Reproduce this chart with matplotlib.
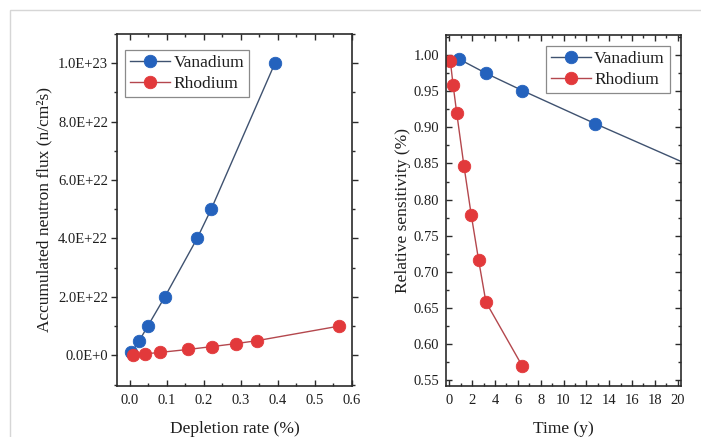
import matplotlib
matplotlib.use("Agg")
import matplotlib.pyplot as plt
from matplotlib.ticker import FixedLocator, MultipleLocator, FixedFormatter
from matplotlib.patches import Rectangle

# ---- data -------------------------------------------------------------
# Left: accumulated neutron flux vs depletion rate
v_depletion = [0.005, 0.026, 0.049, 0.095, 0.182, 0.220, 0.392]
v_flux = [1e21, 5e21, 1e22, 2e22, 4e22, 5e22, 1e23]
rh_depletion = [0.010, 0.042, 0.082, 0.157, 0.223, 0.286, 0.343, 0.565]
rh_flux = [1e20, 5e20, 1e21, 2e21, 3e21, 4e21, 5e21, 1e22]

# Right: relative sensitivity vs time
v_time = [0.8, 3.2, 6.4, 12.8, 25.6]
v_sens = [0.995, 0.975, 0.951, 0.905, 0.816]
rh_time = [0.08, 0.32, 0.64, 1.28, 1.92, 2.56, 3.2, 6.4]
rh_sens = [0.992, 0.959, 0.920, 0.846, 0.778, 0.716, 0.658, 0.569]

flux_ticks = [0, 2e22, 4e22, 6e22, 8e22, 1e23]
flux_labels = ["0.0E+0", "2.0E+22", "4.0E+22", "6.0E+22", "8.0E+22", "1.0E+23"]
depl_ticks = [0.0, 0.1, 0.2, 0.3, 0.4, 0.5, 0.6]
depl_labels = ["0.0", "0.1", "0.2", "0.3", "0.4", "0.5", "0.6"]
sens_ticks = [0.55, 0.60, 0.65, 0.70, 0.75, 0.80, 0.85, 0.90, 0.95, 1.00]
sens_labels = ["0.55", "0.60", "0.65", "0.70", "0.75", "0.80", "0.85", "0.90", "0.95", "1.00"]
time_ticks = [0, 2, 4, 6, 8, 10, 12, 14, 16, 18, 20]
time_labels = [str(t) for t in time_ticks]

# ---- style ------------------------------------------------------------
plt.rcParams["font.family"] = ["Liberation Serif", "DejaVu Serif"]
BLUE = "#2462bd"
RED = "#e2393b"
BLUE_LINE = "#3f5270"
RED_LINE = "#b4474d"
SPINE = "#2b2b2b"
TEXT = "#1e1e1e"

fig = plt.figure(figsize=(7.01, 4.37), dpi=100)

# faint frame around the figure
fig.patches.append(Rectangle((10 / 701, -0.05), 1.1, (437 - 10) / 437 + 0.05,
                             transform=fig.transFigure, fill=False,
                             edgecolor="#d6d6d6", linewidth=1.0))

ax1 = fig.add_axes([117 / 701, 51 / 437, 235 / 701, 352 / 437])
ax2 = fig.add_axes([446 / 701, 51 / 437, 235 / 701, 351 / 437])

mk = dict(marker="o", markersize=9.0, markeredgewidth=0.6, linewidth=1.0)

ax1.plot(v_depletion, v_flux, color=BLUE_LINE, markerfacecolor=BLUE,
         markeredgecolor=BLUE, label="Vanadium", **mk)
ax1.plot(rh_depletion, rh_flux, color=RED_LINE, markerfacecolor=RED,
         markeredgecolor=RED, label="Rhodium", **mk)

ax2.plot(v_time, v_sens, color=BLUE_LINE, markerfacecolor=BLUE,
         markeredgecolor=BLUE, label="Vanadium", **mk)
ax2.plot(rh_time, rh_sens, color=RED_LINE, markerfacecolor=RED,
         markeredgecolor=RED, label="Rhodium", **mk)

ax1.set_xlim(-0.034, 0.6)
ax1.set_ylim(-1.05e22, 1.1e23)
ax2.set_xlim(-0.3, 20.3)
ax2.set_ylim(0.5417, 1.028)

ax1.xaxis.set_major_locator(FixedLocator(depl_ticks))
ax1.xaxis.set_major_formatter(FixedFormatter(depl_labels))
ax1.xaxis.set_minor_locator(MultipleLocator(0.05))
ax1.yaxis.set_major_locator(FixedLocator(flux_ticks))
ax1.yaxis.set_major_formatter(FixedFormatter(flux_labels))
ax1.yaxis.set_minor_locator(MultipleLocator(1e22))

ax2.xaxis.set_major_locator(FixedLocator(time_ticks))
ax2.xaxis.set_major_formatter(FixedFormatter(time_labels))
ax2.xaxis.set_minor_locator(MultipleLocator(1))
ax2.yaxis.set_major_locator(FixedLocator(sens_ticks))
ax2.yaxis.set_major_formatter(FixedFormatter(sens_labels))
ax2.yaxis.set_minor_locator(MultipleLocator(0.025))

for ax in (ax1, ax2):
    for s in ax.spines.values():
        s.set_color(SPINE)
        s.set_linewidth(1.2)
    ax.tick_params(which="both", top=True, right=True, direction="in",
                   color=SPINE, width=1.0, labelsize=10.5, labelcolor=TEXT)
    ax.tick_params(which="major", length=4.5)
    ax.tick_params(which="minor", length=2.5)
    ax.tick_params(axis="x", which="major", pad=6)

ax1.tick_params(axis="y", which="both", direction="out", pad=2)
ax2.tick_params(axis="y", which="major", pad=5)

lab = dict(fontsize=12.5, color=TEXT)
ax1.set_xlabel("Depletion rate (%)", labelpad=10, **lab)
ax1.set_ylabel("Accumulated neutron flux (n/cm²s)", labelpad=4, **lab)
ax2.set_xlabel("Time (y)", labelpad=10, **lab)
ax2.set_ylabel("Relative sensitivity (%)", labelpad=2, **lab)

leg_kw = dict(fontsize=12.5, handlelength=2.3, handletextpad=0.2,
              labelspacing=0.25, borderpad=0.3, borderaxespad=0.0,
              fancybox=False, framealpha=1.0, edgecolor="#8a8a8a")
l1 = ax1.legend(loc="upper left", bbox_to_anchor=(0.034, 0.955), **leg_kw)
l2 = ax2.legend(loc="upper right", bbox_to_anchor=(0.953, 0.969), **leg_kw)
for lg in (l1, l2):
    lg.get_frame().set_linewidth(0.9)
    for t in lg.get_texts():
        t.set_color(TEXT)

fig.savefig("out.png", dpi=100)
